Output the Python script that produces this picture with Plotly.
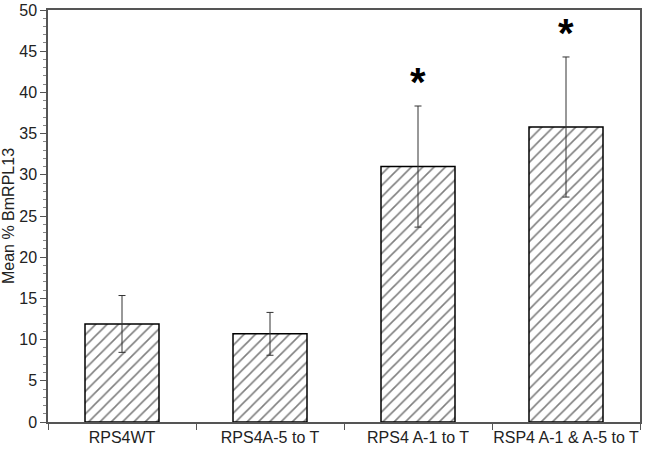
import plotly.graph_objects as go

categories = ["RPS4WT", "RPS4A-5 to T", "RPS4 A-1 to T", "RSP4 A-1 & A-5 to T"]
means = [11.9, 10.7, 31.0, 35.8]
errors = [3.45, 2.6, 7.35, 8.5]
significant = [False, False, True, True]

fig = go.Figure()
fig.add_trace(go.Bar(
    x=categories, y=means, width=0.5,
    marker=dict(color="white", line=dict(color="black", width=1.5),
                pattern=dict(shape="/", fgcolor="black", bgcolor="white", size=8, solidity=0.2)),
    error_y=dict(type="data", array=errors, visible=True, color="#333", thickness=1, width=3.5),
    showlegend=False,
))

for c, m, e, s in zip(categories, means, errors, significant):
    if s:
        fig.add_annotation(x=c, y=m + e, text="<b>*</b>", showarrow=False,
                           yanchor="bottom", yshift=0,
                           font=dict(size=40, color="black", family="Liberation Sans, Arial"))

fig.update_layout(
    width=645, height=451,
    margin=dict(l=48, r=5, t=10, b=29),
    plot_bgcolor="white", paper_bgcolor="white",
    font=dict(family="Liberation Sans, Arial", color="#222"),
    bargap=0.5,
)
fig.update_xaxes(
    range=[-0.5, 3.5], showline=True, linecolor="#555", linewidth=1.5, mirror=True,
    ticks="outside", tickson="boundaries", ticklen=6, tickcolor="#555", tickangle=0,
    tickfont=dict(size=16, color="#222"), showgrid=False, automargin=False,
)
fig.update_yaxes(
    range=[0, 50], dtick=5, showline=True, linecolor="#555", linewidth=1.5, mirror=True,
    ticks="outside", ticklen=6, tickcolor="#555", tickfont=dict(size=16, color="#222"),
    showgrid=False, zeroline=False, automargin=False,
    minor=dict(dtick=1, ticks="outside", ticklen=3, tickcolor="#888", showgrid=False),
    title=dict(text="Mean % BmRPL13", font=dict(size=16, color="#222"), standoff=2),
)
fig.write_html("out.html", config={"displayModeBar": False},
               post_script="document.body.style.margin='0';document.body.style.padding='0';")
